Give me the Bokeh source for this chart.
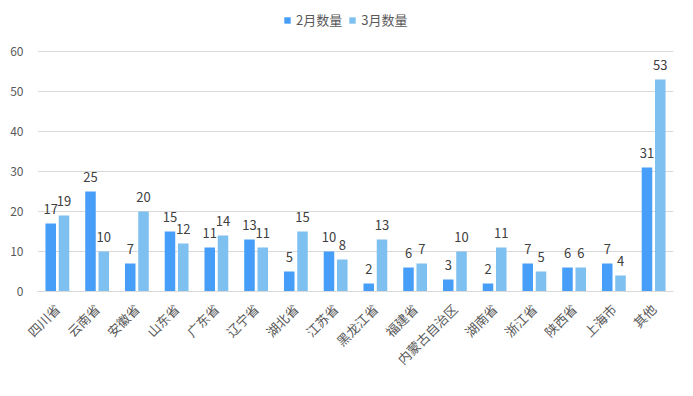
import math
from bokeh.plotting import figure
from bokeh.models import ColumnDataSource, FixedTicker, Legend, LegendItem, FactorRange
from bokeh.transform import dodge
from bokeh.core.properties import value
from bokeh.embed import file_html
from bokeh.resources import INLINE

categories = ["四川省", "云南省", "安徽省", "山东省", "广东省", "辽宁省", "湖北省", "江苏省",
              "黑龙江省", "福建省", "内蒙古自治区", "湖南省", "浙江省", "陕西省", "上海市", "其他"]
feb = [17, 25, 7, 15, 11, 13, 5, 10, 2, 6, 3, 2, 7, 6, 7, 31]
mar = [19, 10, 20, 12, 14, 11, 15, 8, 13, 7, 10, 11, 5, 6, 4, 53]
y_ticks = [0, 10, 20, 30, 40, 50, 60]

FONT = "Noto Sans CJK SC"
C_FEB = "#479ef8"
C_MAR = "#7ec0ef"

src = ColumnDataSource(dict(cat=categories, feb=feb, mar=mar,
                            feb_t=[str(v) for v in feb], mar_t=[str(v) for v in mar]))

p = figure(x_range=FactorRange(factors=categories, range_padding=0), y_range=(0, 70),
           width=685, height=386, output_backend="svg", toolbar_location=None,
           min_border_left=37, min_border_right=12, min_border_top=11, min_border_bottom=95)
p.outline_line_color = None

r1 = p.vbar(x=dodge("cat", -0.167, range=p.x_range), top="feb", width=0.265, source=src,
            fill_color=C_FEB, line_color=None)
r2 = p.vbar(x=dodge("cat", 0.167, range=p.x_range), top="mar", width=0.265, source=src,
            fill_color=C_MAR, line_color=None)

for off, col in ((-0.167, "feb"), (0.167, "mar")):
    p.text(x=dodge("cat", off, range=p.x_range), y=col, text=col + "_t", source=src,
           text_align="center", text_baseline="bottom", y_offset=-10,
           text_font=value(FONT), text_font_size="13px", text_color="#404040")

p.yaxis.ticker = FixedTicker(ticks=y_ticks)
p.yaxis.axis_line_color = None
p.yaxis.major_tick_line_color = None
p.yaxis.minor_tick_line_color = None
p.yaxis.major_label_standoff = 8
p.yaxis.major_label_text_font = FONT
p.yaxis.major_label_text_font_size = "12px"
p.yaxis.major_label_text_color = "#595959"

p.xaxis.axis_line_color = "#d9d9d9"
p.xaxis.major_tick_line_color = None
p.xaxis.minor_tick_line_color = None
p.xaxis.major_label_orientation = math.pi / 4
p.xaxis.major_label_standoff = 9
p.xaxis.major_label_text_font = FONT
p.xaxis.major_label_text_font_size = "13px"
p.xaxis.major_label_text_color = "#595959"

p.xgrid.grid_line_color = None
p.ygrid.grid_line_color = "#d9d9d9"
p.ygrid.ticker = FixedTicker(ticks=y_ticks)

legend = Legend(items=[LegendItem(label="2月数量", renderers=[r1]),
                       LegendItem(label="3月数量", renderers=[r2])],
                location=(246, 262), orientation="horizontal",
                glyph_width=8, glyph_height=8, label_standoff=5, spacing=6,
                label_text_font=FONT, label_text_font_size="13px", label_text_color="#595959",
                background_fill_alpha=0, border_line_color=None, padding=0, margin=0)
p.add_layout(legend)

open("out.html", "w").write(file_html(p, INLINE))
